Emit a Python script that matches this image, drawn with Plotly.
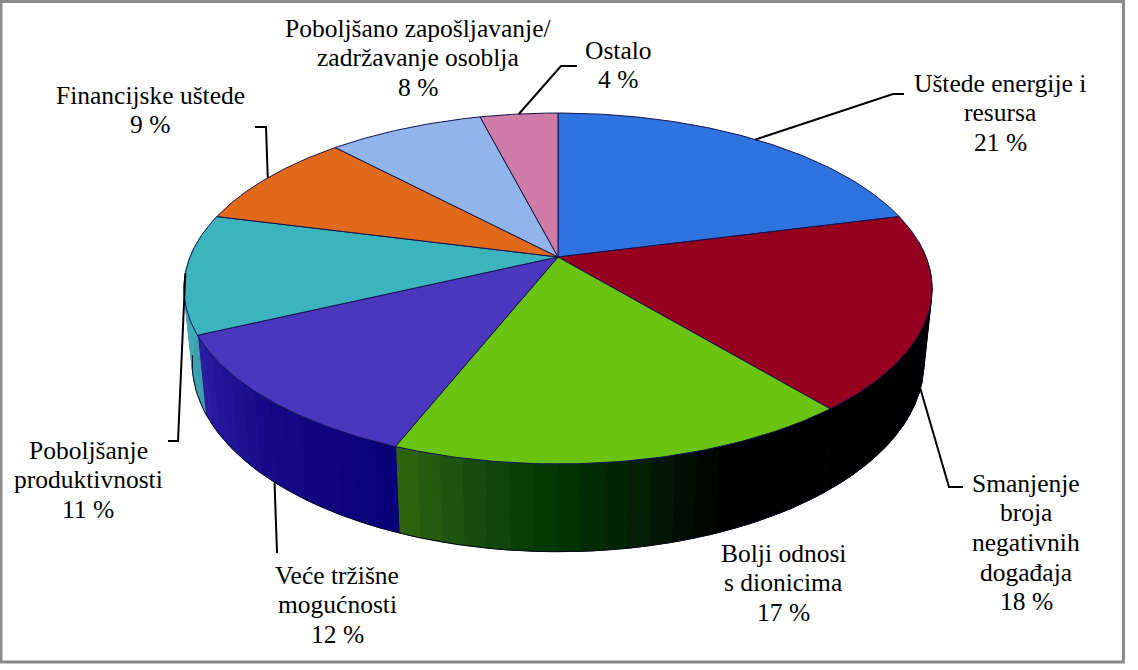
import numpy as np
import plotly.graph_objects as go

# ---- data ----
categories = ["Uštede energije i<br>resursa", "Smanjenje<br>broja<br>negativnih<br>događaja",
              "Bolji odnosi<br>s dionicima", "Veće tržišne<br>mogućnosti",
              "Poboljšanje<br>produktivnosti", "Financijske uštede",
              "Poboljšano zapošljavanje/<br>zadržavanje osoblja", "Ostalo"]
shares = [21, 18, 17, 12, 11, 9, 8, 4]
top_colors = ["#2f73de", "#96001e", "#69c30f", "#4b37be", "#3cb4be", "#e1691a", "#91b4eb", "#cd7da5"]
# side-wall colours, from slice start angle to slice end angle
wall_stops = [
    [(0, 0, 0), (0, 0, 0)],
    [(0, 0, 0), (0, 0, 0)],
    [(0, 0, 0), (0, 0, 0), (5, 28, 5), (0, 55, 0), (20, 72, 14), (50, 102, 14)],
    [(10, 0, 118), (22, 10, 135), (45, 30, 165)],
    [(60, 160, 175), (70, 180, 190)],
    [(150, 70, 10), (150, 70, 10)],
    [(100, 120, 160), (100, 120, 160)],
    [(130, 80, 110), (130, 80, 110)],
]
wall_stop_pos = [[0, 1], [0, 1], [0, .29, .45, .65, .8, 1], [0, .5, 1], [0, 1], [0, 1], [0, 1], [0, 1]]
label_x = [1000, 1026, 783, 337, 88, 150, 418, 618]
label_y = [83, 483, 553, 575, 450, 95, 28, 50]
LINE_PITCH = 29.7
# leader: (on_wall, elbow x, elbow y, end x, end y); None = no leader
leaders = [(False, 893, 94, 904, 94), (True, 949, 487, 963, 487), None, (True, 277, 553, 277, 553),
           (False, 178, 441, 168, 441), (False, 266, 127, 255, 127), None, (False, 561, 66, 577, 66)]

# ---- projection of the disc ----
CX, CY, A, B, K, DEPTH, SHRINK = 558, 257, 368, 169.8, 0.1795, 72, 0.978
FONT = "Liberation Serif"
EDGE = "#12124e"


def top(theta):
    u, v = np.sin(theta), np.cos(theta)
    d = 1 + K * v
    return CX + A * u / d, CY - B * v / d


def bottom(theta):
    x, y = top(theta)
    return CX + (x - CX) * SHRINK, y + DEPTH / (1 + K * np.cos(theta))


def lerp_color(stops, pos, t):
    c = [np.interp(t, pos, [s[i] for s in stops]) for i in range(3)]
    return "rgb(%d,%d,%d)" % tuple(c)


fig = go.Figure()


def poly(xs, ys, fill, line, width=1):
    fig.add_trace(go.Scatter(x=xs, y=ys, mode="lines", fill="toself", fillcolor=fill,
                             line=dict(color=line, width=width), hoverinfo="skip", showlegend=False))


edges = 2 * np.pi * np.cumsum([0] + shares) / sum(shares)

# side walls
for i, (a0, a1) in enumerate(zip(edges[:-1], edges[1:])):
    n = max(2, int((a1 - a0) / np.radians(3)))
    for j in range(n):
        s0 = a0 + (a1 - a0) * j / n
        s1 = a0 + (a1 - a0) * (j + 1) / n
        if np.cos((s0 + s1) / 2) > 0.1:
            continue
        th = np.linspace(s0, s1, 5)
        tx, ty = top(th)
        bx, by = bottom(th)
        col = lerp_color(wall_stops[i], wall_stop_pos[i], (j + .5) / n)
        poly(np.r_[tx, bx[::-1], tx[0]], np.r_[ty, by[::-1], ty[0]], col, col)
    if np.cos(a1) < 0.1:
        bx, by = bottom(a1)
        tx, ty = top(a1)
        fig.add_trace(go.Scatter(x=[tx, bx], y=[ty, by], mode="lines", line=dict(color=EDGE, width=1),
                                 hoverinfo="skip", showlegend=False))
# lower rim outline
th = np.radians(np.linspace(90, 262, 120))
bx, by = bottom(th)
fig.add_trace(go.Scatter(x=bx, y=by, mode="lines", line=dict(color="#0a0a20", width=1),
                         hoverinfo="skip", showlegend=False))

# top faces
for i, (a0, a1) in enumerate(zip(edges[:-1], edges[1:])):
    th = np.linspace(a0, a1, 80)
    x, y = top(th)
    poly(np.r_[CX, x, CX], np.r_[CY, y, CY], top_colors[i], EDGE)

# leader lines
for i, lead in enumerate(leaders):
    if lead is None:
        continue
    mid = (edges[i] + edges[i + 1]) / 2
    x0, y0 = bottom(mid) if lead[0] else top(mid)
    fig.add_trace(go.Scatter(x=[x0, lead[1], lead[3]], y=[y0, lead[2], lead[4]], mode="lines",
                             line=dict(color="#000000", width=2), hoverinfo="skip", showlegend=False))

# labels, one annotation per line to keep the original line pitch
for name, val, lx, ly in zip(categories, shares, label_x, label_y):
    for k, line in enumerate(name.split("<br>") + [f"{val} %"]):
        fig.add_annotation(x=lx, y=ly + k * LINE_PITCH, text=line, showarrow=False,
                           xanchor="center", yanchor="middle", align="center",
                           font=dict(family=FONT, size=25.5, color="#000000"))

# frame
fig.add_shape(type="rect", x0=1, y0=1.5, x1=1123.5, y1=662, line=dict(color="#8a8a8a", width=3), layer="below")

fig.update_layout(width=1138, height=670, margin=dict(l=0, r=0, t=0, b=0), paper_bgcolor="white",
                  plot_bgcolor="white", showlegend=False,
                  xaxis=dict(range=[0, 1138], visible=False, fixedrange=True),
                  yaxis=dict(range=[670, 0], visible=False, fixedrange=True))
fig.write_html("out.html", config=dict(displayModeBar=False),
               post_script="document.body.style.margin='0';document.body.style.overflow='hidden';")
